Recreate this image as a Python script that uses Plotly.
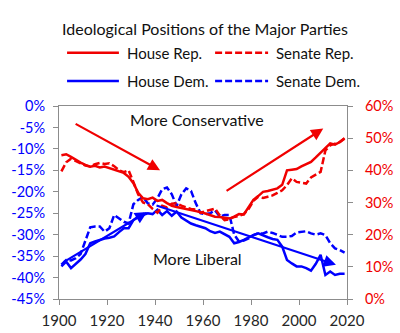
import plotly.graph_objects as go

# Congress years (two-year steps)
years = list(range(1901, 2021, 2))

# Republican positions (right axis, %)
house_rep = [44.7, 45.0, 44.2, 43.2, 42.4, 41.7, 41.1, 41.4, 40.9, 41.2,
             40.7, 40.4, 39.8, 39.2, 38.0, 36.0, 33.0, 31.3, 31.0, 31.5,
             30.5, 30.8, 29.8, 29.0, 28.6, 28.3, 28.0, 27.8, 27.5, 27.0,
             26.6, 26.1, 25.6, 25.5, 25.2, 25.0, 25.6, 26.4, 26.3, 28.5,
             30.8, 32.0, 33.3, 33.6, 34.0, 34.4, 35.5, 40.0, 40.2, 40.4,
             41.2, 41.8, 42.6, 44.0, 45.5, 47.2, 48.4, 48.0, 48.8, 50.0]
senate_rep = [39.7, 42.5, 43.6, 43.0, 42.2, 41.5, 41.2, 41.9, 42.3, 42.0,
              42.2, 41.3, 40.0, 39.4, 40.0, 36.4, 32.5, 30.0, 29.5, 28.0,
              26.8, 29.0, 28.5, 29.6, 29.8, 29.0, 28.4, 28.0, 27.8, 26.8,
              27.3, 27.6, 28.1, 26.0, 24.5, 24.8, 25.5, 25.8, 26.4, 28.0,
              30.5, 31.8, 31.4, 31.8, 32.2, 33.0, 33.8, 35.4, 37.5, 36.4,
              36.2, 35.9, 37.8, 38.6, 39.5, 46.2, 47.8, 48.3, 48.8, 49.9]

# Democratic positions (left axis, %)
house_dem = [-37.4, -36.3, -37.8, -36.8, -35.8, -34.5, -32.0, -31.6, -31.2, -30.9,
             -30.7, -30.4, -29.4, -28.5, -28.5, -26.6, -25.8, -25.4, -25.0, -25.2,
             -24.2, -25.4, -24.5, -25.6, -24.6, -26.0, -26.8, -27.4, -27.8, -28.1,
             -28.5, -29.2, -29.6, -29.3, -30.0, -30.5, -32.0, -31.7, -31.2, -30.6,
             -30.1, -29.7, -30.2, -30.6, -31.0, -31.2, -32.8, -35.9, -36.7, -37.4,
             -37.4, -37.8, -38.4, -36.8, -34.7, -39.4, -38.6, -39.4, -39.1, -39.1]
senate_dem = [-37.0, -35.9, -36.0, -35.5, -34.5, -31.6, -28.3, -28.1, -28.1, -29.3,
              -28.5, -25.4, -26.2, -27.0, -27.4, -22.9, -21.9, -21.2, -22.7, -23.0,
              -21.5, -19.4, -19.0, -20.6, -23.3, -20.6, -19.2, -19.8, -22.7, -25.0,
              -25.2, -25.0, -24.3, -25.8, -25.4, -25.4, -30.0, -31.6, -31.4, -30.9,
              -30.1, -29.7, -29.7, -29.3, -29.6, -30.1, -30.5, -30.5, -30.3, -29.5,
              -29.3, -29.2, -29.7, -30.0, -29.7, -30.1, -32.0, -33.2, -33.6, -34.2]

# Axis ticks
x_ticks = [1900, 1920, 1940, 1960, 1980, 2000, 2020]
left_ticks = [0, -5, -10, -15, -20, -25, -30, -35, -40, -45]
left_labels = ["0%", "-5%", "-10%", "-15%", "-20%", "-25%", "-30%", "-35%", "-40%", "-45%"]
right_ticks = [0, 10, 20, 30, 40, 50, 60]
right_labels = ["0%", "10%", "20%", "30%", "40%", "50%", "60%"]

RED = "#F00000"
BLUE = "#0000FF"
GRAY = "#8C8C8C"
FONT = "Lato"
DASH = "7px,3px"

fig = go.Figure()
fig.add_trace(go.Scatter(x=years, y=house_rep, yaxis="y2", mode="lines",
                         line=dict(color=RED, width=2.5), name="House Rep."))
fig.add_trace(go.Scatter(x=years, y=senate_rep, yaxis="y2", mode="lines",
                         line=dict(color=RED, width=2.5, dash=DASH), name="Senate Rep."))
fig.add_trace(go.Scatter(x=years, y=house_dem, mode="lines",
                         line=dict(color=BLUE, width=2.5), name="House Dem."))
fig.add_trace(go.Scatter(x=years, y=senate_dem, mode="lines",
                         line=dict(color=BLUE, width=2.5, dash=DASH), name="Senate Dem."))

# Trend arrows
arrows = [
    dict(x=1942.1, y=40.0, ax=1906.3, ay=54.7, yref="y2", color=RED),
    dict(x=2010.1, y=53.0, ax=1969.2, ay=33.3, yref="y2", color=RED),
    dict(x=1936.7, y=-24.7, ax=1901.3, ay=-36.6, yref="y", color=BLUE),
    dict(x=2015.4, y=-37.0, ax=1940.0, ay=-23.1, yref="y", color=BLUE),
]
annotations = []
for a in arrows:
    annotations.append(dict(x=a["x"], y=a["y"], ax=a["ax"], ay=a["ay"],
                            xref="x", yref=a["yref"], axref="x", ayref=a["yref"],
                            showarrow=True, arrowhead=2, arrowsize=1.1,
                            arrowwidth=2.2, arrowcolor=a["color"], text=""))

annotations.append(dict(x=1957.3, y=-3.2, xref="x", yref="y", text="More Conservative",
                        showarrow=False, font=dict(family=FONT, size=16, color="#111111")))
annotations.append(dict(x=1957.6, y=-35.5, xref="x", yref="y", text="More Liberal",
                        showarrow=False, font=dict(family=FONT, size=16, color="#111111")))

# Legend drawn above the plot area
legend_items = [
    ("House Rep.", RED, "solid", 0.028, 0.208, 0.229, 1.276),
    ("Senate Rep.", RED, DASH, 0.542, 0.726, 0.747, 1.276),
    ("House Dem.", BLUE, "solid", 0.028, 0.208, 0.229, 1.129),
    ("Senate Dem.", BLUE, DASH, 0.542, 0.726, 0.747, 1.129),
]
shapes = []
for label, color, dash, x0, x1, tx, yy in legend_items:
    shapes.append(dict(type="line", xref="paper", yref="paper", x0=x0, x1=x1, y0=yy, y1=yy,
                       line=dict(color=color, width=2.5, dash=dash)))
    annotations.append(dict(x=tx, y=yy, xref="paper", yref="paper", text=label,
                            xanchor="left", yanchor="middle", showarrow=False,
                            font=dict(family=FONT, size=15, color="#111111")))

fig.update_layout(
    width=400, height=333,
    margin=dict(l=59, r=53, t=106, b=34),
    paper_bgcolor="white", plot_bgcolor="white",
    showlegend=False,
    title=dict(text="Ideological Positions of the Major Parties",
               x=0.5125, xanchor="center", y=1 - 29 / 333, yanchor="middle",
               font=dict(family=FONT, size=16, color="#111111")),
    xaxis=dict(range=[1900, 2020], tickvals=x_ticks, showgrid=False, zeroline=False,
               showline=True, linecolor=GRAY, linewidth=1, mirror=True, automargin=False,
               ticks="outside", ticklen=5, tickcolor=GRAY, ticklabelstandoff=3,
               tickfont=dict(family=FONT, size=15, color="#262626")),
    yaxis=dict(range=[-45, 0], tickvals=left_ticks, ticktext=left_labels, automargin=False,
               showgrid=False, zeroline=False, showline=True, linecolor=GRAY, linewidth=1,
               ticks="outside", ticklen=5, tickcolor=GRAY, ticklabelstandoff=5,
               tickfont=dict(family=FONT, size=14.5, color=BLUE)),
    yaxis2=dict(range=[0, 60], tickvals=right_ticks, ticktext=right_labels, automargin=False,
                overlaying="y", side="right", showgrid=False, zeroline=False,
                showline=True, linecolor=GRAY, linewidth=1,
                ticks="outside", ticklen=5, tickcolor=GRAY, ticklabelstandoff=9,
                tickfont=dict(family=FONT, size=14.5, color=RED)),
    annotations=annotations,
    shapes=shapes,
)

fig.write_html("out.html")
